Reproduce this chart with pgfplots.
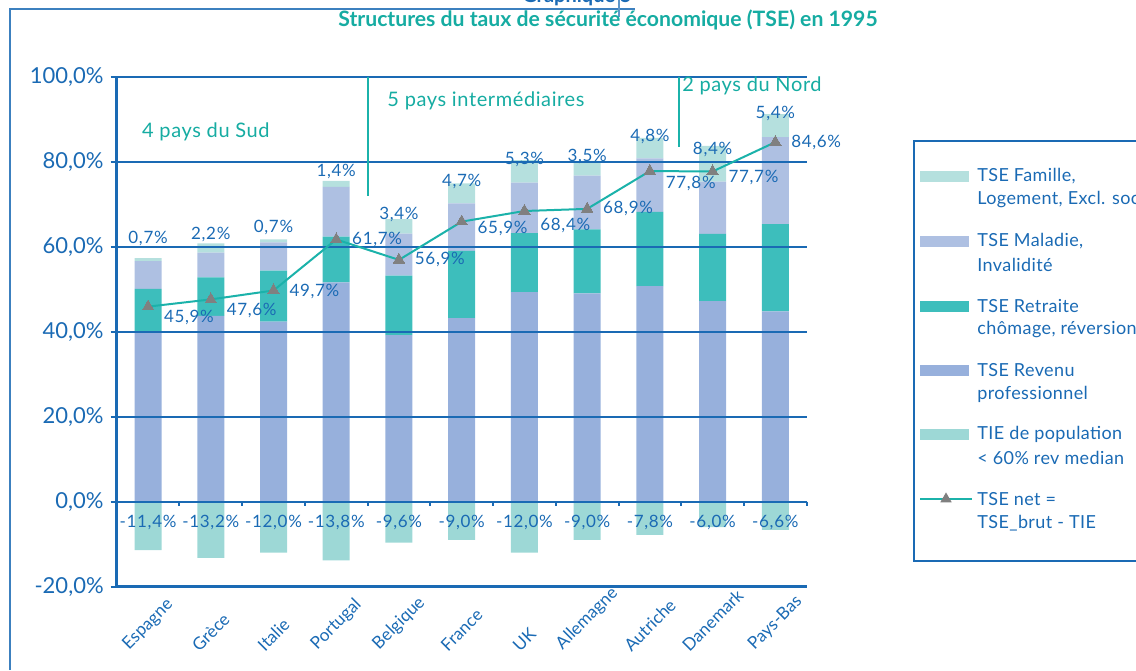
\documentclass[border=0pt]{standalone}
\usepackage{graphicx}
\usepackage{pgfplots}
\pgfplotsset{compat=1.18}
\usepackage{pgfplotstable}
\usepackage{fontspec}
\setmainfont{Lato}
\definecolor{cfam}{RGB}{181,224,222}
\definecolor{cmal}{RGB}{174,192,226}
\definecolor{cret}{RGB}{61,190,188}
\definecolor{crev}{RGB}{151,176,220}
\definecolor{ctie}{RGB}{157,216,214}
\definecolor{cline}{RGB}{27,178,170}
\definecolor{cgray}{RGB}{128,128,128}
\definecolor{cblue}{RGB}{26,106,180}
\definecolor{cteal}{RGB}{22,172,162}
\pgfplotstableread{
x revenu retraite maladie famille tie net dy ty
0 40.1 10.0 6.5 0.7 -11.4 45.9 11 9
1 43.7 9.1 5.8 2.2 -13.2 47.6 11 1
2 42.4 12.0 6.6 0.7 -12.0 49.7 1 1
3 51.6 10.8 11.7 1.4 -13.8 61.7 0 0
4 39.2 14.0 9.9 3.4 -9.6 56.9 0 0
5 43.2 15.8 11.2 4.7 -9.0 65.9 7 0
6 49.3 13.9 11.9 5.3 -12.0 68.4 14 0
7 49.0 15.1 12.6 3.5 -9.0 68.9 0 0
8 50.7 17.5 12.6 4.8 -7.8 77.8 12 0
9 47.2 15.8 12.3 8.4 -6.0 77.7 6 2
10 44.8 20.5 20.5 5.4 -6.6 84.6 0 0
}\data
\pgfplotsset{base/.style={at={(58.35pt,-293.35pt)}, anchor=south west, scale only axis,
  width=345pt, height=255pt, xmin=-0.5, xmax=10.5, ymin=-20, ymax=100, clip=false,
  /pgf/number format/assume math mode=true}}
\newcommand{\lab}{\fontsize{8.5}{10}\selectfont\addfontfeature{LetterSpace=4}}
\begin{document}
\begin{tikzpicture}
\useasboundingbox (0,0) rectangle (568pt,-335pt);
% frame
\draw[cblue!85, line width=1pt] (5pt,-335pt) -- (5pt,-4.65pt) -- (317.5pt,-4.65pt);
\draw[cblue!70, line width=0.6pt] (309.5pt,0pt) -- (309.5pt,-8.5pt);
\node[anchor=base, text=cblue, font=\bfseries\fontsize{10}{12}\selectfont] at (288.5pt,-1.3pt) {Graphique 5};
\node[text=cteal, font=\bfseries\fontsize{10.6}{12}\selectfont] at (304pt,-10pt) {Structures du taux de sécurité économique (TSE) en 1995};

% TIE bars
\begin{axis}[base, hide axis, ybar, bar width=13.5pt, bar shift=0pt]
\addplot[fill=ctie, draw=none] table[x=x,y=tie]{\data};
\end{axis}

% stacked bars
\begin{axis}[base, ybar stacked, bar width=13.5pt, axis on top,
  axis lines*=left, axis line style={cblue, line width=1.4pt},
  ymajorgrids, grid style={cblue, line width=0.8pt},
  ytick={-20,0,20,40,60,80,100},
  yticklabels={{-20,0\%},{0,0\%},{20,0\%},{40,0\%},{60,0\%},{80,0\%},{100,0\%}},
  xtick={0,...,10},
  xticklabels={\rotatebox{45}{Espagne},\rotatebox{45}{Grèce},\rotatebox{45}{Italie},\rotatebox{45}{Portugal},\rotatebox{45}{Belgique},\rotatebox{45}{France},\rotatebox{45}{UK},\rotatebox{45}{Allemagne},\rotatebox{45}{Autriche},\rotatebox{45}{Danemark},\rotatebox{45}{Pays-Bas}},
  x tick style={draw=none}, y tick style={cblue, line width=1pt},
  tick align=outside, major tick length=3pt,
  yticklabel style={text=cblue, font=\fontsize{11}{13}\selectfont},
  xticklabel style={text=cblue, font=\fontsize{8.6}{10}\selectfont, inner sep=0pt, anchor=south, yshift=-30pt},
]
\addplot[fill=crev, draw=none] table[x=x,y=revenu]{\data};
\addplot[fill=cret, draw=none] table[x=x,y=retraite]{\data};
\addplot[fill=cmal, draw=none] table[x=x,y=maladie]{\data};
\addplot[fill=cfam, draw=none, point meta=explicit,
  visualization depends on={\thisrow{ty} \as \ty},
  nodes near coords={\pgfmathprintnumber[fixed,fixed zerofill,precision=1,use comma]{\pgfplotspointmeta}\%},
  every node near coord/.append style={text=cblue, font=\lab, inner sep=0pt, yshift={6pt+0.5pt*\ty}}]
  table[x=x,y=famille,meta=famille]{\data};
\end{axis}

% overlay: line, labels
\begin{axis}[base, hide axis]
\pgfplotsinvokeforeach{0.5,1.5,2.5,3.5,4.5,5.5,6.5,7.5,8.5,9.5,10.5}{
  \draw[cblue, line width=1pt] (axis cs:#1,0) -- ++(0pt,-2.2pt);
}
\addplot[cline, line width=1pt, mark=triangle*, mark size=3.3pt,
  mark options={fill=cgray, draw=cgray, line width=0pt},
  visualization depends on={\thisrow{dy} \as \dy},
  nodes near coords={\pgfmathprintnumber[fixed,fixed zerofill,precision=1,use comma]{\pgfplotspointmeta}\%},
  every node near coord/.append style={anchor=west, inner sep=0pt, xshift=8pt, yshift={-0.5pt*\dy}, text=cblue, font=\lab}]
  table[x=x,y=net]{\data};
\tikzset{tl/.style={text=cblue, font=\lab, inner sep=0pt}}
\node[tl] at (axis cs:0,-4.9) {-11,4\%};
\node[tl] at (axis cs:1,-4.9) {-13,2\%};
\node[tl] at (axis cs:2,-4.9) {-12,0\%};
\node[tl] at (axis cs:3,-4.9) {-13,8\%};
\node[tl] at (axis cs:4,-4.9) {-9,6\%};
\node[tl] at (axis cs:5,-4.9) {-9,0\%};
\node[tl] at (axis cs:6,-4.9) {-12,0\%};
\node[tl] at (axis cs:7,-4.9) {-9,0\%};
\node[tl] at (axis cs:8,-4.9) {-7,8\%};
\node[tl] at (axis cs:9,-4.9) {-6,0\%};
\node[tl] at (axis cs:10,-4.9) {-6,6\%};
% groups
\draw[cline, line width=1pt] (axis cs:3.5,100) -- (axis cs:3.5,71.9);
\draw[cline, line width=1pt] (axis cs:8.46,100) -- (axis cs:8.46,83.5);
\tikzset{gl/.style={text=cteal, font=\fontsize{10}{12}\selectfont\addfontfeature{LetterSpace=3}, anchor=west, inner sep=0pt}}
\node[gl] at (axis cs:-0.1,87.1) {4 pays du Sud};
\node[gl] at (axis cs:3.81,94.3) {5 pays intermédiaires};
\node[gl] at (axis cs:8.51,97.8) {2 pays du Nord};
\end{axis}

% legend
\draw[cblue, line width=1pt] (600pt,-70.5pt) -- (457pt,-70.5pt) -- (457pt,-280.5pt) -- (600pt,-280.5pt);
\tikzset{lt/.style={text=cblue, font=\fontsize{9}{10}\selectfont\addfontfeature{LetterSpace=2.2}, anchor=west, inner sep=0pt}}
\fill[cfam] (460pt,-85.25pt) rectangle (484.5pt,-90.75pt);
\node[lt] at (488.5pt,-88pt) {TSE Famille,};
\node[lt] at (488.5pt,-100pt) {Logement, Excl. sociale};
\fill[cmal] (460pt,-117.75pt) rectangle (484.5pt,-123.25pt);
\node[lt] at (488.5pt,-120.5pt) {TSE Maladie,};
\node[lt] at (488.5pt,-132.5pt) {Invalidité};
\fill[cret] (460pt,-150.25pt) rectangle (484.5pt,-155.75pt);
\node[lt] at (488.5pt,-153pt) {TSE Retraite};
\node[lt] at (488.5pt,-165pt) {chômage, réversion};
\fill[crev] (460pt,-182.25pt) rectangle (484.5pt,-187.75pt);
\node[lt] at (488.5pt,-185pt) {TSE Revenu};
\node[lt] at (488.5pt,-197pt) {professionnel};
\fill[ctie] (460pt,-214.25pt) rectangle (484.5pt,-219.75pt);
\node[lt] at (488.5pt,-217pt) {TIE de population};
\node[lt] at (488.5pt,-229pt) {< 60\% rev median};
\draw[cline, line width=1pt] (460pt,-249.5pt) -- (486pt,-249.5pt);
\fill[cgray] (473pt,-249.5pt) ++(90:3.3pt) -- ++(-120:5.7pt) -- ++(0:5.7pt) -- cycle;
\node[lt] at (488.5pt,-249.5pt) {TSE net =};
\node[lt] at (488.5pt,-261.5pt) {TSE\_brut - TIE};
\end{tikzpicture}
\end{document}
